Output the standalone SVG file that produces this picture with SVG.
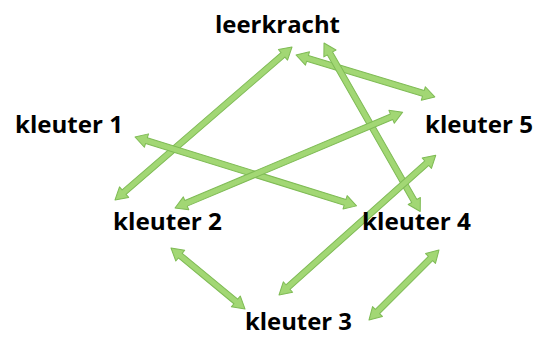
<svg xmlns="http://www.w3.org/2000/svg" width="538" height="338" viewBox="0 0 538 338">
<style>
.arr{fill:#a2d774;stroke:#7fbb55;stroke-width:1;stroke-linejoin:round}
.lbl{font-family:"Open Sans","Liberation Sans",sans-serif;font-weight:bold;font-size:24px;fill:#000}
</style>
<rect width="538" height="338" fill="#fff"/>
<g id="connectors">
<path class="arr" transform="translate(115,200) rotate(-40.84)" d="M0,0 L12,-7 L12,-3 L222,-3 L222,-7 L234,0 L222,7 L222,3 L12,3 L12,7 Z"/>
<path class="arr" transform="translate(296,55) rotate(16.81)" d="M0,0 L12,-7 L12,-3 L133,-3 L133,-7 L145,0 L133,7 L133,3 L12,3 L12,7 Z"/>
<path class="arr" transform="translate(324,43) rotate(60.26)" d="M0,0 L12,-7 L12,-3 L182,-3 L182,-7 L194,0 L182,7 L182,3 L12,3 L12,7 Z"/>
<path class="arr" transform="translate(135,137) rotate(17.27)" d="M0,0 L12,-7 L12,-3 L220,-3 L220,-7 L232,0 L220,7 L220,3 L12,3 L12,7 Z"/>
<path class="arr" transform="translate(175,208) rotate(-22.83)" d="M0,0 L12,-7 L12,-3 L235,-3 L235,-7 L247,0 L235,7 L235,3 L12,3 L12,7 Z"/>
<path class="arr" transform="translate(279,295) rotate(-41.72)" d="M0,0 L12,-7 L12,-3 L198,-3 L198,-7 L210,0 L198,7 L198,3 L12,3 L12,7 Z"/>
<path class="arr" transform="translate(171,248) rotate(39.5)" d="M0,0 L12,-7 L12,-3 L84,-3 L84,-7 L96,0 L84,7 L84,3 L12,3 L12,7 Z"/>
<path class="arr" transform="translate(369,320) rotate(-45)" d="M0,0 L12,-7 L12,-3 L87,-3 L87,-7 L99,0 L87,7 L87,3 L12,3 L12,7 Z"/>
</g>
<g id="leerkracht"><text class="lbl" x="215" y="33" textLength="125" lengthAdjust="spacingAndGlyphs">leerkracht</text></g>
<g id="kleuter1"><text class="lbl" x="15" y="133" textLength="108" lengthAdjust="spacingAndGlyphs">kleuter 1</text></g>
<g id="kleuter5"><text class="lbl" x="425" y="133" textLength="108" lengthAdjust="spacingAndGlyphs">kleuter 5</text></g>
<g id="kleuter2"><text class="lbl" x="113" y="230" textLength="109" lengthAdjust="spacingAndGlyphs">kleuter 2</text></g>
<g id="kleuter4"><text class="lbl" x="362" y="230" textLength="109" lengthAdjust="spacingAndGlyphs">kleuter 4</text></g>
<g id="kleuter3"><text class="lbl" x="245" y="330" textLength="107" lengthAdjust="spacingAndGlyphs">kleuter 3</text></g>
</svg>
